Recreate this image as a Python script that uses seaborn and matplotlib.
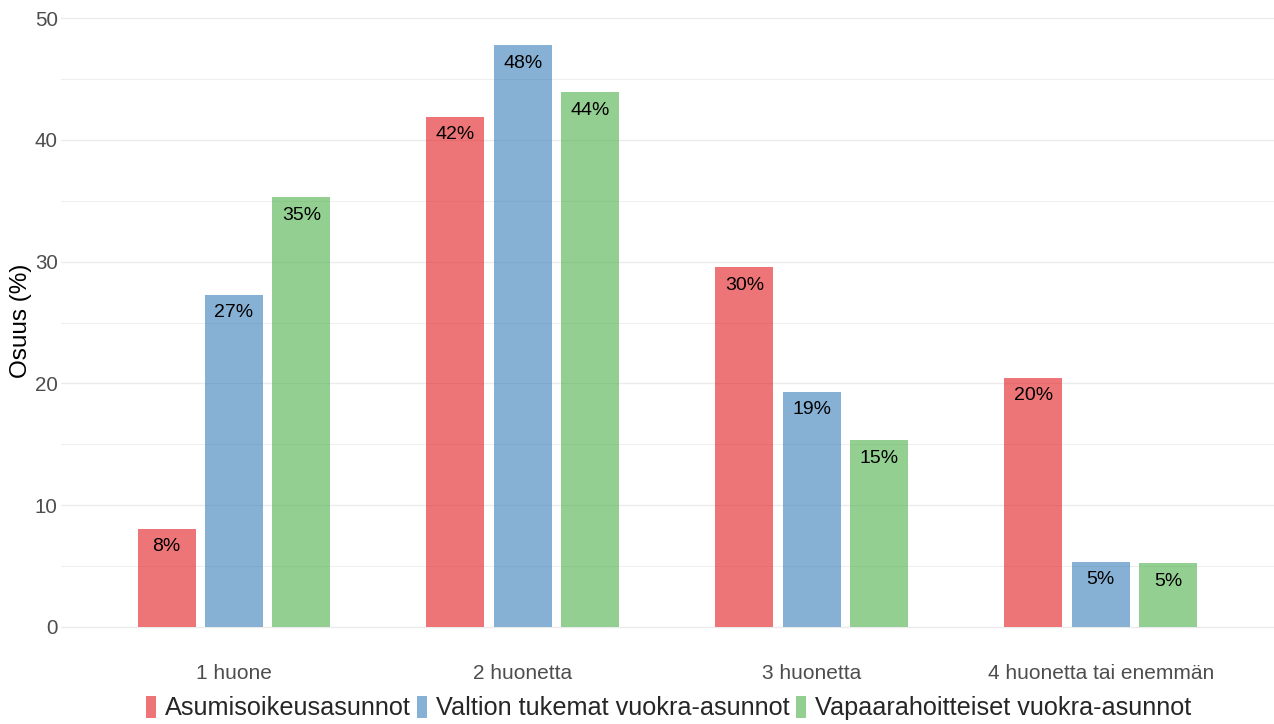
import matplotlib
matplotlib.use("Agg")
import matplotlib.pyplot as plt
import seaborn as sns
import pandas as pd
from matplotlib.patches import Patch

categories = ["1 huone", "2 huonetta", "3 huonetta", "4 huonetta tai enemmän"]
series_names = ["Asumisoikeusasunnot", "Valtion tukemat vuokra-asunnot", "Vapaarahoitteiset vuokra-asunnot"]
asumisoikeus = [8.05, 41.9, 29.55, 20.45]
valtion = [27.3, 47.8, 19.3, 5.35]
vapaarahoitteiset = [35.3, 43.9, 15.35, 5.25]
colors = ["#E41A1C", "#377EB8", "#4DAF4A"]
yticks = [0, 10, 20, 30, 40, 50]

rows = []
for name, vals in zip(series_names, [asumisoikeus, valtion, vapaarahoitteiset]):
    for c, v in zip(categories, vals):
        rows.append({"Huoneet": c, "Tyyppi": name, "Osuus": v})
df = pd.DataFrame(rows)

sns.set_theme(style="white")
plt.rcParams["font.family"] = ["Liberation Sans", "DejaVu Sans"]

ALPHA = 0.6
fig = plt.figure(figsize=(12.74, 7.24), dpi=100)
ax = fig.add_axes([0.0476, 0.094, 0.9524, 0.884])

sns.barplot(data=df, x="Huoneet", y="Osuus", hue="Tyyppi", order=categories,
            hue_order=series_names, palette=colors, alpha=ALPHA, width=0.7,
            gap=0.14, errorbar=None, legend=False, ax=ax, saturation=1, linewidth=0)

for cont in ax.containers:
    for bar in cont:
        h = bar.get_height()
        ax.annotate(f"{h:.0f}%", xy=(bar.get_x() + bar.get_width() / 2, h),
                    xytext=(0, -13), textcoords="offset points",
                    ha="center", va="center", fontsize=14, color="black")

ymax = max(max(asumisoikeus), max(valtion), max(vapaarahoitteiset))
ax.set_ylim(-0.05 * ymax, ymax * 1.05)
ax.set_xlim(-0.6, len(categories) - 0.4)
ax.set_yticks(yticks)
ax.set_yticks([5, 15, 25, 35, 45], minor=True)
ax.grid(axis="y", which="major", color="#EBEBEB", linewidth=1.0)
ax.grid(axis="y", which="minor", color="#EBEBEB", linewidth=0.6)
ax.grid(axis="x", visible=False)
ax.set_axisbelow(True)
for s in ax.spines.values():
    s.set_visible(False)
ax.tick_params(axis="both", which="both", length=0)
ax.tick_params(axis="x", labelsize=15, labelcolor="#4D4D4D", pad=5.5)
ax.tick_params(axis="y", labelsize=14.8, labelcolor="#4D4D4D", pad=2)
ax.set_xlabel("")
ax.set_ylabel("Osuus (%)", fontsize=17.5, color="black")
ax.yaxis.set_label_coords(-0.0235, 0.523)

handles = [Patch(facecolor=c, alpha=ALPHA, edgecolor="none") for c in colors]
fig.legend(handles, series_names, loc="center", bbox_to_anchor=(0.525, 0.022),
           ncol=3, frameon=False, fontsize=18.2, handlelength=0.4, handleheight=0.95,
           handletextpad=0.35, columnspacing=0.25, borderaxespad=0, borderpad=0)

fig.savefig("out.png", dpi=100)
